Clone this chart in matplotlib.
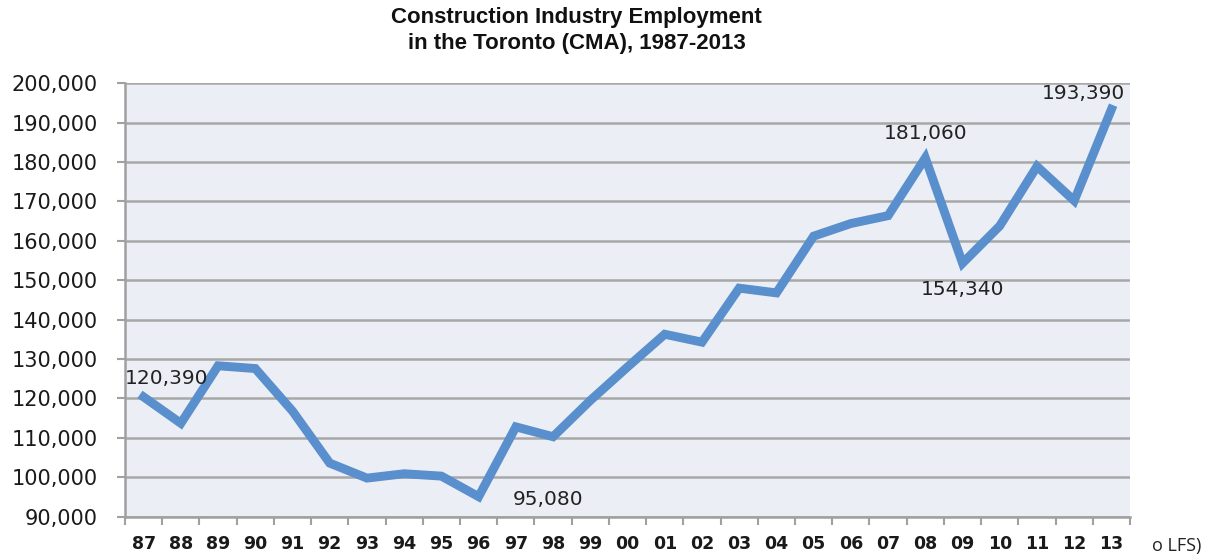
import matplotlib.pyplot as plt
from matplotlib.ticker import FuncFormatter, FixedLocator

years = ["87", "88", "89", "90", "91", "92", "93", "94", "95", "96", "97", "98", "99",
         "00", "01", "02", "03", "04", "05", "06", "07", "08", "09", "10", "11", "12", "13"]
employment = [120390, 113700, 128300, 127600, 116800, 103600, 99800, 100900, 100300, 95080,
              112800, 110300, 119500, 128000, 136300, 134300, 148000, 146800, 161200, 164400,
              166400, 181060, 154340, 163800, 178900, 170200, 193390]

# labelled points: index, text offset in data units
labelled = {0: (0.62, 4600), 9: (1.87, -800), 21: (0.0, 6300), 22: (0.0, -6800), 26: (-0.75, 4100)}

fig = plt.figure(figsize=(12.09, 5.55), dpi=100)
ax = fig.add_axes([0.1034, 0.069, 0.8313, 0.781])

x = list(range(len(years)))
ax.plot(x, employment, color="#5A8FCD", linewidth=6.4, solid_joinstyle="miter", zorder=3)

for i, (dx, dy) in labelled.items():
    ax.text(x[i] + dx, employment[i] + dy, f"{employment[i]:,}", ha="center", va="center",
            fontsize=14.5, color="#222222", zorder=4)

ax.set_xlim(-0.5, len(years) - 0.5)
ax.set_ylim(90000, 200000)
ax.set_yticks(range(90000, 200001, 10000))
ax.yaxis.set_major_formatter(FuncFormatter(lambda v, p: f"{int(v):,}"))
ax.set_facecolor("#EBEEF4")
ax.grid(axis="y", color="#A8A8A8", linewidth=1.8, zorder=1)

ax.set_xticks(x)
ax.set_xticklabels(years, fontweight="bold")
ax.xaxis.set_minor_locator(FixedLocator([i - 0.5 for i in range(len(years) + 1)]))
ax.tick_params(axis="x", which="major", length=0, pad=13, labelsize=12.5, labelcolor="#1a1a1a")
ax.tick_params(axis="x", which="minor", length=6, width=1.5, color="#A0A0A0")
ax.tick_params(axis="y", length=6, width=1.5, color="#A0A0A0", labelsize=15,
               labelcolor="#1a1a1a", pad=13.5)

for side in ["top", "right"]:
    ax.spines[side].set_visible(False)
for side in ["left", "bottom"]:
    ax.spines[side].set_color("#A0A0A0")
    ax.spines[side].set_linewidth(1.8)

fig.text(0.477, 1 - 18 / 555, "Construction Industry Employment", ha="center", va="center",
         fontsize=16, fontweight="bold", family="Liberation Sans", color="#111111")
fig.text(0.477, 1 - 44 / 555, "in the Toronto (CMA), 1987-2013", ha="center", va="center",
         fontsize=16, fontweight="bold", family="Liberation Sans", color="#111111")
fig.text(0.953, 0.008, "o LFS)", fontsize=13, color="#222222", family="Open Sans")

fig.savefig("out.png", dpi=100)
